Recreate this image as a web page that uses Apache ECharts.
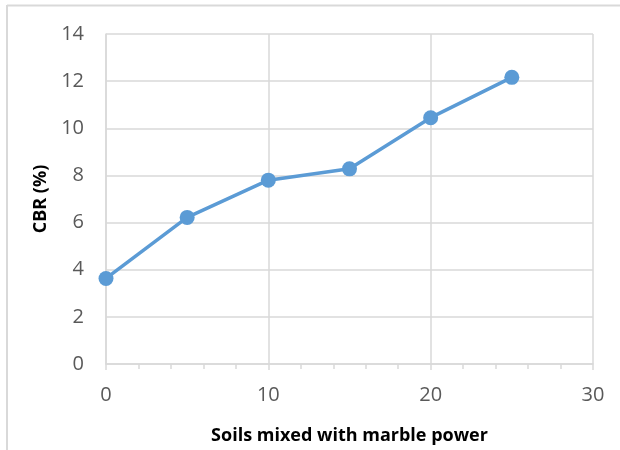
<!DOCTYPE html>
<html>
<head>
<meta charset="utf-8">
<script src="https://cdn.jsdelivr.net/npm/echarts@6/dist/echarts.min.js"></script>
<style>
  html, body { margin: 0; padding: 0; background: #fff; }
  #chart { width: 620px; height: 450px; }
</style>
</head>
<body>
<div id="chart"></div>
<script>
// Marble powder content (%) and resulting CBR (%)
var marbleContent = [0, 5, 10, 15, 20, 25];
var cbrValues = [3.63, 6.22, 7.80, 8.28, 10.45, 12.16];
var xTitle = 'Soils mixed with marble power';
var yTitle = 'CBR (%)';

var FONT = '"Open Sans", "Liberation Sans", sans-serif';
var chart = echarts.init(document.getElementById('chart'), null, { renderer: 'canvas' });

chart.setOption({
  backgroundColor: '#ffffff',
  animation: false,
  grid: { left: 106, top: 34, right: 27, bottom: 82, containLabel: false },
  graphic: [
    { type: 'line', shape: { x1: 7, y1: 5, x2: 7, y2: 450 }, style: { stroke: '#d9d9d9', lineWidth: 2 } },
    { type: 'line', shape: { x1: 7, y1: 5.5, x2: 620, y2: 5.5 }, style: { stroke: '#d9d9d9', lineWidth: 2 } }
  ],
  xAxis: {
    type: 'value',
    min: 0, max: 30, interval: 10,
    name: xTitle,
    nameLocation: 'middle',
    nameGap: 63,
    nameTextStyle: { fontFamily: FONT, fontWeight: 'bold', fontSize: 18, color: '#000' },
    axisLine: { show: true, lineStyle: { color: '#d9d9d9', width: 1.5 } },
    axisTick: { show: true, length: 6, lineStyle: { color: '#d9d9d9', width: 1.5 } },
    minorTick: { show: true, splitNumber: 5, length: 5, lineStyle: { color: '#d9d9d9', width: 1.5 } },
    axisLabel: { fontFamily: FONT, fontSize: 20, color: '#595959', margin: 21 },
    splitLine: { show: true, lineStyle: { color: '#d9d9d9', width: 1.5 } }
  },
  yAxis: {
    type: 'value',
    min: 0, max: 14, interval: 2,
    name: yTitle,
    nameLocation: 'middle',
    nameGap: 44,
    nameRotate: 90,
    nameTextStyle: { fontFamily: FONT, fontWeight: 'bold', fontSize: 18, color: '#000' },
    axisLine: { show: true, lineStyle: { color: '#d9d9d9', width: 1.5 } },
    axisTick: { show: false },
    axisLabel: { fontFamily: FONT, fontSize: 20, color: '#595959', margin: 22 },
    splitLine: { show: true, lineStyle: { color: '#d9d9d9', width: 1.5 } }
  },
  series: [{
    type: 'line',
    data: marbleContent.map(function (x, i) { return [x, cbrValues[i]]; }),
    symbol: 'circle',
    symbolSize: 15,
    lineStyle: { color: '#5b9bd5', width: 3.5 },
    itemStyle: { color: '#5b9bd5' }
  }]
});
</script>
</body>
</html>
